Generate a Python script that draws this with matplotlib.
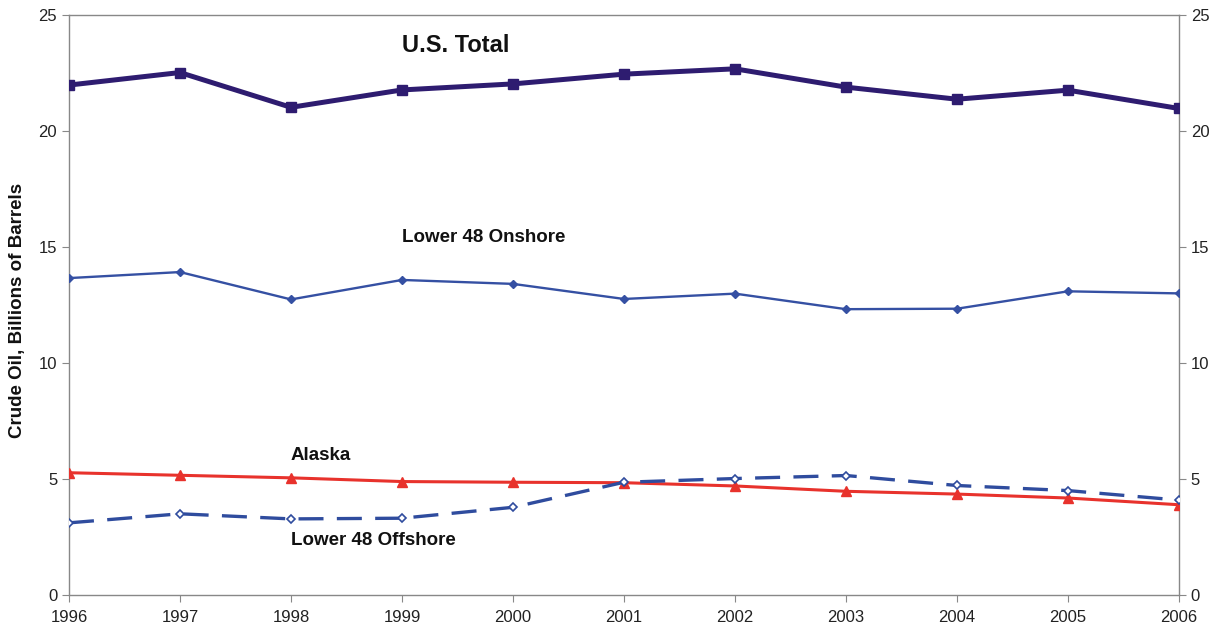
import matplotlib
matplotlib.use("Agg")
import matplotlib.pyplot as plt

years = [1996, 1997, 1998, 1999, 2000, 2001, 2002, 2003, 2004, 2005, 2006]
us_total = [21.98, 22.52, 21.02, 21.77, 22.03, 22.45, 22.68, 21.89, 21.37, 21.76, 20.97]
onshore = [13.66, 13.92, 12.74, 13.58, 13.41, 12.76, 12.99, 12.32, 12.34, 13.09, 13.00]
alaska = [5.27, 5.16, 5.05, 4.89, 4.86, 4.84, 4.70, 4.47, 4.35, 4.18, 3.89]
offshore = [3.11, 3.50, 3.28, 3.31, 3.78, 4.86, 5.02, 5.15, 4.72, 4.50, 4.09]
yticks = [0, 5, 10, 15, 20, 25]

plt.rcParams['font.family'] = ['Liberation Sans', 'DejaVu Sans']

fig = plt.figure(figsize=(12.2, 6.31), dpi=100)
ax = fig.add_axes([69/1220, 1-595/631, (1179-69)/1220, (595-15)/631])

ax.plot(years, us_total, color='#2E1C70', lw=3.6, marker='s', ms=7, zorder=4)
ax.plot(years, onshore, color='#3550A3', lw=1.7, marker='D', ms=4.5, zorder=3)
ax.plot(years, alaska, color='#E8322C', lw=2.2, marker='^', ms=7, zorder=3)
ax.plot(years, offshore, color='#2F4C9E', lw=2.4, ls=(0, (7.5, 4)), marker='D',
        ms=4.5, mfc='white', mec='#2F4C9E', mew=1.2, zorder=4)

ax.set_xlim(1996, 2006)
ax.set_ylim(0, 25)
ax.set_xticks(years)
ax.set_yticks(yticks)
for s in ax.spines.values():
    s.set_color('#888888')
    s.set_linewidth(1.0)
ax.tick_params(axis='both', colors='#888888', labelcolor='#222222', labelsize=12,
               direction='out', length=5)
ax.tick_params(axis='y', right=True, labelright=True)
ax.tick_params(axis='x', pad=6)

ax.set_ylabel('Crude Oil, Billions of Barrels', fontsize=13.5, fontweight='bold',
              color='#111111', va='center')
ax.yaxis.set_label_coords(-0.046, 0.49)

ax.text(1999.0, 23.7, 'U.S. Total', fontsize=17, fontweight='bold', va='center', ha='left', color='#111111')
ax.text(1999.0, 15.4, 'Lower 48 Onshore', fontsize=13.5, fontweight='bold', va='center', ha='left', color='#111111')
ax.text(1998.0, 6.0, 'Alaska', fontsize=13.5, fontweight='bold', va='center', ha='left', color='#111111')
ax.text(1998.0, 2.35, 'Lower 48 Offshore', fontsize=13.5, fontweight='bold', va='center', ha='left', color='#111111')

fig.savefig('out.png', dpi=100)
